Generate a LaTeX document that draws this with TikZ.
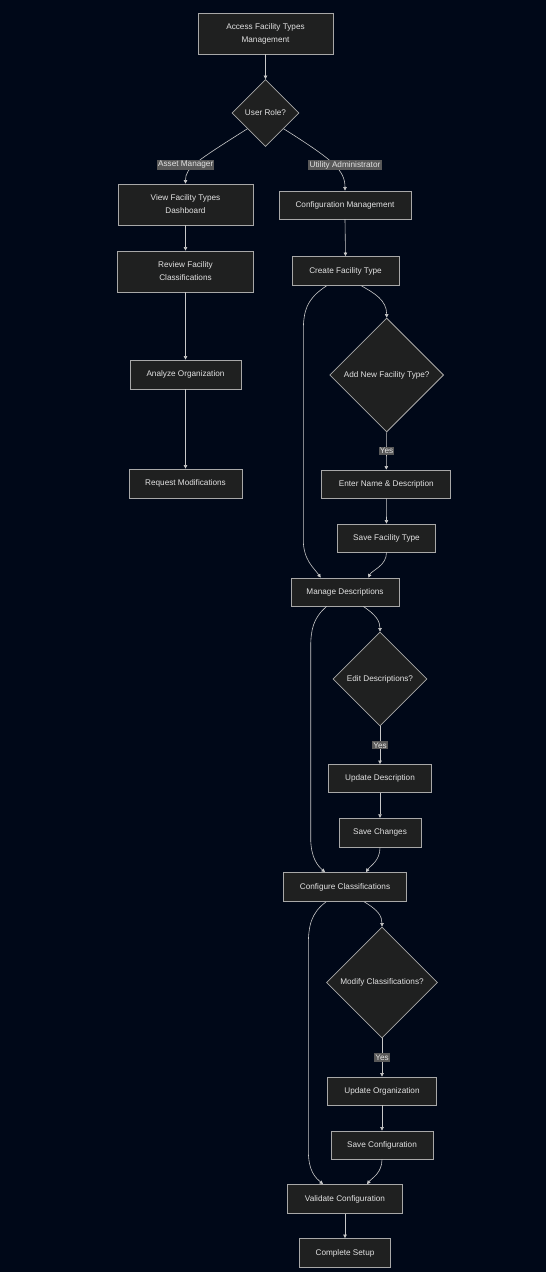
\documentclass[tikz,border=0pt]{standalone}
\usepackage{fontspec}
\setmainfont{Liberation Sans}
\usetikzlibrary{shapes.geometric,arrows.meta}
\definecolor{bg}{HTML}{000818}
\definecolor{nodefill}{HTML}{1F2020}
\definecolor{nodeline}{HTML}{A8A8A8}
\definecolor{txt}{HTML}{E2E2E2}
\definecolor{edgec}{HTML}{C8C8C8}
\definecolor{lblfill}{HTML}{585858}
\tikzset{
  box/.style={draw=nodeline, fill=nodefill, line width=0.8pt, text=txt,
    font=\fontsize{8.2}{13}\selectfont, align=center, inner sep=0pt},
  decision/.style={diamond, aspect=1, draw=nodeline, fill=nodefill, line width=0.8pt,
    text=txt, font=\fontsize{8.2}{13}\selectfont, inner sep=0pt},
  edge/.style={draw=edgec, line width=0.6pt, -{Triangle[length=3.5pt,width=3.5pt]}},
  lbl/.style={fill=lblfill, text=txt, font=\fontsize{8.2}{10}\selectfont, inner sep=1.2pt}
}
\begin{document}
\begin{tikzpicture}[x=1pt,y=-1pt]
\fill[bg] (0,0) rectangle (546,1272);
\useasboundingbox (0,0) rectangle (546,1272);

% nodes
\node[box, minimum width=135, minimum height=41] (acc) at (265.5,33.5) {Access Facility Types\\Management};
\node[decision, minimum width=67, minimum height=67] (ur) at (265.5,113) {User Role?};
\node[box, minimum width=135, minimum height=41] (view) at (185.5,204.5) {View Facility Types\\Dashboard};
\node[box, minimum width=132, minimum height=28] (cfg) at (345,205) {Configuration Management};
\node[box, minimum width=136, minimum height=41] (rev) at (185.5,271.5) {Review Facility\\Classifications};
\node[box, minimum width=111, minimum height=29] (ana) at (185.5,374.5) {Analyze Organization};
\node[box, minimum width=113, minimum height=29] (req) at (185.5,483.5) {Request Modifications};
\node[box, minimum width=107, minimum height=29] (crt) at (345.5,271) {Create Facility Type};
\node[decision, minimum width=114, minimum height=114] (add) at (386.7,375) {Add New Facility Type?};
\node[box, minimum width=129, minimum height=28] (ent) at (386.3,484) {Enter Name \& Description};
\node[box, minimum width=98, minimum height=28] (sft) at (386.5,538) {Save Facility Type};
\node[box, minimum width=108, minimum height=28] (mng) at (345,592) {Manage Descriptions};
\node[decision, minimum width=94, minimum height=94] (edit) at (380,679) {Edit Descriptions?};
\node[box, minimum width=103, minimum height=28] (upd) at (380,778.5) {Update Description};
\node[box, minimum width=82, minimum height=29] (sch) at (380,832.7) {Save Changes};
\node[box, minimum width=123, minimum height=29] (cfc) at (345,887) {Configure Classifications};
\node[decision, minimum width=111, minimum height=111] (mod) at (382,982.5) {Modify Classifications?};
\node[box, minimum width=109, minimum height=28] (uorg) at (382,1091) {Update Organization};
\node[box, minimum width=102, minimum height=28] (scf) at (382,1145) {Save Configuration};
\node[box, minimum width=115, minimum height=29] (val) at (345,1199) {Validate Configuration};
\node[box, minimum width=91, minimum height=29] (cmp) at (345,1253) {Complete Setup};

% edges
\draw[edge] (acc.south) -- (ur.north);
\draw[edge] (ur.-139) .. controls (195,162) and (185.5,168) .. (view.north);
\draw[edge] (ur.-41) .. controls (333,160) and (345,170) .. (cfg.north);
\node[lbl] (lam) at (185.7,165) {Asset Manager};
\node[lbl] (lua) at (345,165) {Utility Administrator};
\draw[edge] (view.south) -- (rev.north);
\draw[edge] (rev.south) -- (ana.north);
\draw[edge] (ana.south) -- (req.north);
\draw[edge] (cfg.south) -- (crt.north);

\draw[edge] ([xshift=16pt]crt.south) .. controls (374,293) and (386.7,300) .. (add.north);
\draw[edge] ([xshift=-19pt]crt.south) .. controls (306,299) and (303.3,312) .. (303.3,332) -- (303.3,540) .. controls (303.3,560) and (314,568) .. ([xshift=-24.3pt]mng.north);
\draw[edge] (add.south) -- node[lbl]{Yes} (ent.north);
\draw[edge] (ent.south) -- (sft.north);
\draw[edge] (sft.south) .. controls (386.5,566) and (372,570) .. ([xshift=23.3pt]mng.north);

\draw[edge] ([xshift=18.3pt]mng.south) .. controls (376,615) and (380,621) .. (edit.north);
\draw[edge] ([xshift=-18.3pt]mng.south) .. controls (313,618) and (310.7,630) .. (310.7,648) -- (310.7,838) .. controls (310.7,858) and (318,866) .. ([xshift=-20pt]cfc.north);
\draw[edge] (edit.south) -- node[lbl]{Yes} (upd.north);
\draw[edge] (upd.south) -- (sch.north);
\draw[edge] (sch.south) .. controls (380,861) and (370,866) .. ([xshift=21pt]cfc.north);

\draw[edge] ([xshift=19.3pt]cfc.south) .. controls (378,910) and (382,916) .. (mod.north);
\draw[edge] ([xshift=-19pt]cfc.south) .. controls (311,913) and (308.3,926) .. (308.3,946) -- (308.3,1150) .. controls (308.3,1172) and (316,1178) .. ([xshift=-22pt]val.north);
\draw[edge] (mod.south) -- node[lbl]{Yes} (uorg.north);
\draw[edge] (uorg.south) -- (scf.north);
\draw[edge] (scf.south) .. controls (382,1173) and (372,1178) .. ([xshift=22pt]val.north);
\draw[edge] (val.south) -- (cmp.north);
\end{tikzpicture}
\end{document}
